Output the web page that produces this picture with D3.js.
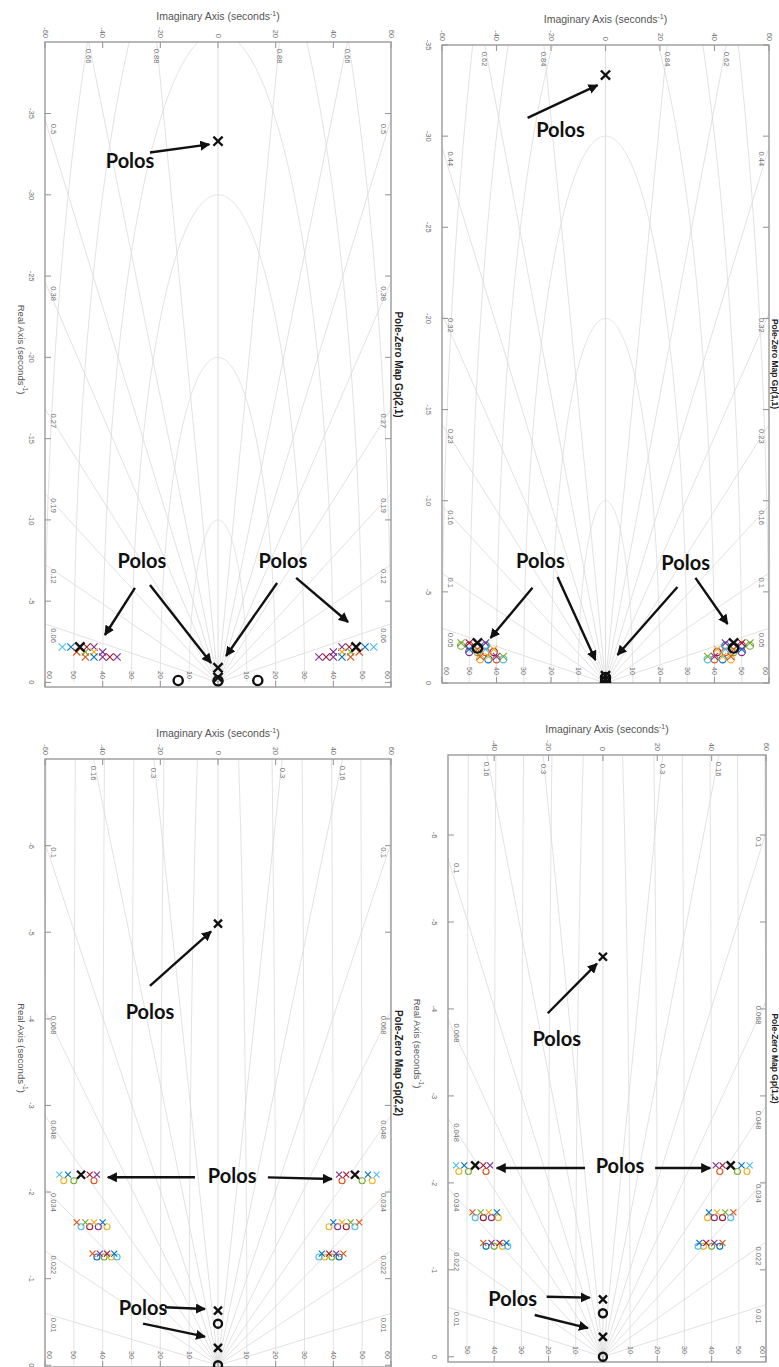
<!DOCTYPE html>
<html><head><meta charset="utf-8">
<script src="https://cdn.jsdelivr.net/npm/d3@7"></script>
<style>body{margin:0;background:#fff}svg{display:block}</style>
</head><body>
<svg id="c" width="779" height="1367"></svg>
<script>
// ---------------- DATA ----------------
const seriesColors = ["#0072BD","#D95319","#EDB120","#7E2F8E","#77AC30","#4DBEEE","#A2142F"];

// Gp(2,1)
const gp21Title = "Pole-Zero Map Gp(2,1)";
const gp21RealTicks = [-35,-30,-25,-20,-15,-10,-5,0];
const gp21ImagTicks = [-60,-40,-20,0,20,40,60];
const gp21Damping = [0.06,0.12,0.19,0.27,0.38,0.5,0.66,0.88];
const gp21Wn = [10,20,30,40,50,60];
const gp21BlackPoles = [[-33.3,0],[-2.18,-47.9],[-2.18,47.9],[-0.9,0],[-0.3,0]];
const gp21BlackZeros = [[-0.1,0],[-0.12,-13.8],[-0.12,13.8]];
const gp21ColorPoles = [[-2.18,54,5],[-2.18,51,0],[-2.18,45.5,6],[-2.18,43,3],
  [-1.88,49,1],[-1.88,46,4],[-1.88,43,2],[-1.88,40,3],
  [-1.57,46,1],[-1.57,43,0],[-1.57,40,3],[-1.57,37.5,6],[-1.57,35,3]];
const gp21ColorZeros = [];

// Gp(1,1)
const gp11Title = "Pole-Zero Map Gp(1,1)";
const gp11RealTicks = [-35,-30,-25,-20,-15,-10,-5,0];
const gp11ImagTicks = [-60,-40,-20,0,20,40,60];
const gp11Damping = [0.05,0.1,0.16,0.23,0.32,0.44,0.62,0.84];
const gp11Wn = [10,20,30,40,50,60];
const gp11BlackPoles = [[-33.35,0],[-2.2,-47],[-2.2,47],[-0.4,0],[-0.2,0]];
const gp11BlackZeros = [[-1.92,-47],[-1.92,47],[-0.3,0],[-0.05,0]];
const gp11ColorPoles = [[-2.2,53,4],[-2.2,50,6],[-2.2,44,3],
  [-1.85,50,0],[-1.85,47,1],[-1.85,44,5],[-1.85,41,2],
  [-1.45,46,1],[-1.45,43,2],[-1.45,40,3],[-1.45,37.5,4]];
const gp11ColorZeros = [[-2.05,53,4],[-2.05,50,6],[-2.05,44,0],
  [-1.7,50,3],[-1.7,47,4],[-1.7,44,1],[-1.7,41,6],
  [-1.3,46,2],[-1.3,43,0],[-1.3,40,1],[-1.3,37.5,5]];

// Gp(2,2)
const gp22Title = "Pole-Zero Map Gp(2,2)";
const gp22RealTicks = [-6,-5,-4,-3,-2,-1,0];
const gp22ImagTicks = [-60,-40,-20,0,20,40,60];
const gp22Damping = [0.01,0.022,0.034,0.048,0.068,0.1,0.16,0.3];
const gp22Wn = [10,20,30,40,50,60];
const gp22BlackPoles = [[-5.1,0],[-2.2,-47.5],[-2.2,47.5],[-0.63,0],[-0.2,0]];
const gp22BlackZeros = [[-0.48,0],[0,0]];
const gp22ColorPoles = [[-2.2,55,5],[-2.2,52,0],[-2.2,44.5,6],[-2.2,42,3],
  [-1.65,49,1],[-1.65,46,4],[-1.65,43,2],[-1.65,40,0],
  [-1.29,43.5,1],[-1.29,41,3],[-1.29,38.5,6],[-1.29,36,0]];
const gp22ColorZeros = [[-2.13,53.5,2],[-2.13,50,4],[-2.13,43,1],
  [-1.6,47.5,5],[-1.6,44.5,6],[-1.6,41.5,3],[-1.6,38.5,2],
  [-1.25,42,0],[-1.25,39.5,4],[-1.25,37,2],[-1.25,35,5]];

// Gp(1,2)
const gp12Title = "Pole-Zero Map Gp(1,2)";
const gp12RealTicks = [-6,-5,-4,-3,-2,-1,0];
const gp12ImagTicks = [-40,-20,0,20,40,60];
const gp12Damping = [0.01,0.022,0.034,0.048,0.068,0.1,0.16,0.3];
const gp12Wn = [10,20,30,40,50,60];
const gp12BlackPoles = [[-4.6,0],[-2.2,-47],[-2.2,47],[-0.66,0],[-0.23,0]];
const gp12BlackZeros = [[-0.5,0],[0,0]];
const gp12ColorPoles = [[-2.2,54,5],[-2.2,51,0],[-2.2,44,6],[-2.2,41.5,3],
  [-1.66,48,1],[-1.66,45,4],[-1.66,42,2],[-1.66,39,0],
  [-1.31,44,1],[-1.31,41,3],[-1.31,38,6],[-1.31,35.5,0]];
const gp12ColorZeros = [[-2.13,53,2],[-2.13,49.5,4],[-2.13,43,1],
  [-1.6,47,5],[-1.6,44,6],[-1.6,41,3],[-1.6,38.5,2],
  [-1.27,43,0],[-1.27,40,4],[-1.27,37,2],[-1.27,35,5]];

// annotations (data coordinates: [real, imag])
const gp21Notes = {texts:[[-32.15,-30.5],[-7.54,-26.4],[-7.54,22.5]],
  arrows:[[[-32.6,-23.6],[-33.1,-3.0]],[[-5.82,-28.8],[-2.92,-39.2]],[[-6.0,-23.6],[-1.2,-2.4]],[[-6.12,20.5],[-1.63,2.8]],[[-6.43,27.1],[-3.72,45.1]]]};
const gp11Notes = {texts:[[-30.4,-16.5],[-6.76,-23.9],[-6.65,29.4]],
  arrows:[[[-31.0,-28.6],[-32.8,-2.9]],[[-5.22,-26.8],[-2.47,-42.2]],[[-5.82,-17.6],[-1.26,-3.7]],[[-5.27,26.4],[-1.54,4.4]],[[-5.77,33],[-3.24,44.8]]]};
const gp22Notes = {texts:[[-4.09,-23.6],[-2.2,4.9],[-0.67,-26]],
  arrows:[[[-4.38,-23.6],[-5.01,-2.4]],[[-2.17,-8],[-2.17,-38.2]],[[-2.17,17.3],[-2.15,39.5]],[[-0.67,-18.4],[-0.65,-4.5]],[[-0.48,-26],[-0.33,-4.5]]]};
const gp12Notes = {texts:[[-3.66,-17],[-2.2,6.3],[-0.68,-33.2]],
  arrows:[[[-3.95,-20.3],[-4.52,-2.2]],[[-2.17,-6.6],[-2.17,-39.1]],[[-2.17,19.2],[-2.17,39.5]],[[-0.69,-20.7],[-0.68,-4.8]],[[-0.48,-25.1],[-0.33,-5.5]]]};

// ---------------- LAYOUT ----------------
const panels = [
  {title:gp21Title, realTicks:gp21RealTicks, imagTicks:gp21ImagTicks, damping:gp21Damping, wn:gp21Wn,
   bp:gp21BlackPoles, bz:gp21BlackZeros, cp:gp21ColorPoles, cz:gp21ColorZeros, notes:gp21Notes,
   left:45, right:391, top:42, bottom:687, imagDomain:[-60,60], realDomain:[-39.4,0.28],
   titleX:398, titleSize:10, realLabelX:22, showRealLabel:true, mk:3.6, mkb:4.6},
  {title:gp11Title, realTicks:gp11RealTicks, imagTicks:gp11ImagTicks, damping:gp11Damping, wn:gp11Wn,
   bp:gp11BlackPoles, bz:gp11BlackZeros, cp:gp11ColorPoles, cz:gp11ColorZeros, notes:gp11Notes,
   left:442, right:769, top:45, bottom:683, imagDomain:[-60,60], realDomain:[-35,0],
   titleX:774.5, titleSize:8.5, realLabelX:412, showRealLabel:false, mk:3.6, mkb:4.6},
  {title:gp22Title, realTicks:gp22RealTicks, imagTicks:gp22ImagTicks, damping:gp22Damping, wn:gp22Wn,
   bp:gp22BlackPoles, bz:gp22BlackZeros, cp:gp22ColorPoles, cz:gp22ColorZeros, notes:gp22Notes,
   left:45, right:391, top:759, bottom:1367, imagDomain:[-60,60], realDomain:[-7,0.02],
   titleX:398, titleSize:10, realLabelX:22, showRealLabel:true, mk:3, mkb:4},
  {title:gp12Title, realTicks:gp12RealTicks, imagTicks:gp12ImagTicks, damping:gp12Damping, wn:gp12Wn,
   bp:gp12BlackPoles, bz:gp12BlackZeros, cp:gp12ColorPoles, cz:gp12ColorZeros, notes:gp12Notes,
   left:448, right:766, top:755, bottom:1362, imagDomain:[-57,60], realDomain:[-6.92,0.06],
   titleX:774.5, titleSize:8.5, realLabelX:418, showRealLabel:true, mk:3, mkb:4}
];

const svg = d3.select("#c");
const defs = svg.append("defs");
defs.append("marker").attr("id","ah").attr("viewBox","0 0 10 10").attr("refX",9).attr("refY",5)
  .attr("markerWidth",4.2).attr("markerHeight",4.2).attr("orient","auto-start-reverse")
  .append("path").attr("d","M0,0 L10,5 L0,10 Z").attr("fill","#111");

const gridCol = "#dadada", axisCol = "#9a9a9a", textCol = "#707070";
const FONT = "'Liberation Sans', Arial, sans-serif";

function rotText(g, x, y, txt, size, anchor, col, weight){
  return g.append("text").attr("transform",`translate(${x},${y}) rotate(90)`)
    .attr("text-anchor",anchor).attr("dominant-baseline","central")
    .attr("font-family",FONT).attr("font-size",size).attr("fill",col)
    .attr("font-weight",weight||"normal").text(txt);
}

function drawX(g, cx, cy, s, col, w){
  g.append("path").attr("d",`M${cx-s},${cy-s}L${cx+s},${cy+s}M${cx-s},${cy+s}L${cx+s},${cy-s}`)
    .attr("stroke",col).attr("stroke-width",w).attr("fill","none");
}
function drawO(g, cx, cy, r, col, w){
  g.append("circle").attr("cx",cx).attr("cy",cy).attr("r",r).attr("stroke",col).attr("stroke-width",w).attr("fill","none");
}

panels.forEach((p,i)=>{
  const g = svg.append("g");
  const x = d3.scaleLinear().domain(p.imagDomain).range([p.left,p.right]);
  const y = d3.scaleLinear().domain(p.realDomain).range([p.top,p.bottom]);
  const cid = "clip"+i;
  defs.append("clipPath").attr("id",cid).append("rect")
    .attr("x",p.left).attr("y",p.top).attr("width",p.right-p.left).attr("height",p.bottom-p.top);
  const gg = g.append("g").attr("clip-path",`url(#${cid})`);

  const line = d3.line().x(d=>x(d[1])).y(d=>y(d[0]));
  p.wn.forEach(w=>{
    const pts = d3.range(-90,90.5,0.5).map(a=>{const r=a*Math.PI/180; return [-w*Math.cos(r), w*Math.sin(r)];});
    gg.append("path").attr("d",line(pts)).attr("fill","none").attr("stroke",gridCol).attr("stroke-width",0.8);
  });
  p.damping.forEach(z=>{
    [-1,1].forEach(s=>{
      const R=400;
      gg.append("path").attr("d",line([[0,0],[-R*z, s*R*Math.sqrt(1-z*z)]]))
        .attr("fill","none").attr("stroke",gridCol).attr("stroke-width",0.8);
    });
  });
  gg.append("line").attr("x1",x(0)).attr("x2",x(0)).attr("y1",p.top).attr("y2",p.bottom)
    .attr("stroke",gridCol).attr("stroke-width",0.9);

  const imMin=p.imagDomain[0], imMax=p.imagDomain[1], reMin=p.realDomain[0];
  p.damping.forEach(z=>{
    const t = Math.sqrt(1-z*z)/z;
    [-1,1].forEach(s=>{
      const imEdge = s<0 ? imMin : imMax;
      let re = -Math.abs(imEdge)/t, px, py;
      const lbl = String(z);
      if (re >= reMin) {
        px = s<0 ? p.left+8 : p.right-8;
        py = y(re)+ (lbl.length*2.2)+3;
        rotText(g, px, py, lbl, 7.5, "middle", textCol);
      } else {
        const im = s*Math.abs(reMin)*t;
        px = x(im); py = p.top+14;
        rotText(g, px, py, lbl, 7.5, "middle", textCol);
      }
    });
  });
  p.wn.forEach(w=>{
    [-1,1].forEach(s=>{
      let px = x(s*w);
      if (px>=p.left-2 && px<=p.right+2){
        px = Math.max(p.left+4, Math.min(p.right-4, px));
        rotText(g, px, p.bottom-12, String(w), 7, "middle", textCol);
      }
    });
  });

  g.append("rect").attr("x",p.left).attr("y",p.top).attr("width",p.right-p.left).attr("height",p.bottom-p.top)
    .attr("fill","none").attr("stroke",axisCol).attr("stroke-width",1.4);
  p.imagTicks.forEach(t=>{
    const px=x(t);
    g.append("line").attr("x1",px).attr("x2",px).attr("y1",p.top).attr("y2",p.top+6).attr("stroke",axisCol).attr("stroke-width",1.1);
    g.append("line").attr("x1",px).attr("x2",px).attr("y1",p.bottom).attr("y2",p.bottom-6).attr("stroke",axisCol).attr("stroke-width",1.1);
    rotText(g, px, p.top-4, String(t), 7.5, "end", textCol);
  });
  p.realTicks.forEach(t=>{
    const py=y(t);
    g.append("line").attr("x1",p.left).attr("x2",p.left+6).attr("y1",py).attr("y2",py).attr("stroke",axisCol).attr("stroke-width",1.1);
    g.append("line").attr("x1",p.right).attr("x2",p.right-6).attr("y1",py).attr("y2",py).attr("stroke",axisCol).attr("stroke-width",1.1);
    rotText(g, p.left-14, py, String(t), 7.5, "middle", textCol);
  });

  const it = g.append("text").attr("x",(p.left+p.right)/2).attr("y",p.top-22).attr("text-anchor","middle")
    .attr("font-family",FONT).attr("font-size",10.5).attr("fill","#555");
  it.append("tspan").text("Imaginary Axis (seconds");
  it.append("tspan").attr("dy",-4).attr("font-size",7).text("-1");
  it.append("tspan").attr("dy",4).text(")");
  if (p.showRealLabel){
    const rt = g.append("text").attr("transform",`translate(${p.realLabelX},${(p.top+p.bottom)/2-15}) rotate(90)`)
      .attr("text-anchor","middle").attr("dominant-baseline","central")
      .attr("font-family",FONT).attr("font-size",9.5).attr("fill","#555");
    rt.append("tspan").text("Real Axis (seconds");
    rt.append("tspan").attr("dy",-4).attr("font-size",6.5).text("-1");
    rt.append("tspan").attr("dy",4).text(")");
  }
  rotText(g, p.titleX, (p.top+p.bottom)/2, p.title, p.titleSize, "middle", "#222", "bold");

  const mg = g.append("g").attr("clip-path",`url(#${cid})`);
  p.cz.forEach(d=>{[-1,1].forEach(s=>drawO(mg, x(s*d[1]), y(d[0]), p.mk, seriesColors[d[2]], 1.1));});
  p.cp.forEach(d=>{[-1,1].forEach(s=>drawX(mg, x(s*d[1]), y(d[0]), p.mk, seriesColors[d[2]], 1.1));});
  p.bz.forEach(d=>drawO(mg, x(d[1]), y(d[0]), p.mkb, "#111", 2.4));
  p.bp.forEach(d=>drawX(mg, x(d[1]), y(d[0]), p.mkb, "#111", 2.4));

  p.notes.texts.forEach(d=>{
    g.append("text").attr("x",x(d[1])).attr("y",y(d[0])).attr("text-anchor","middle").attr("dominant-baseline","central")
      .attr("font-family","Lato, 'Open Sans', sans-serif").attr("font-weight","bold").attr("font-size",20).attr("fill","#111").text("Polos");
  });
  p.notes.arrows.forEach(a=>{
    g.append("line").attr("x1",x(a[0][1])).attr("y1",y(a[0][0])).attr("x2",x(a[1][1])).attr("y2",y(a[1][0]))
      .attr("stroke","#111").attr("stroke-width",2.4).attr("marker-end","url(#ah)");
  });
});
</script>
</body></html>
